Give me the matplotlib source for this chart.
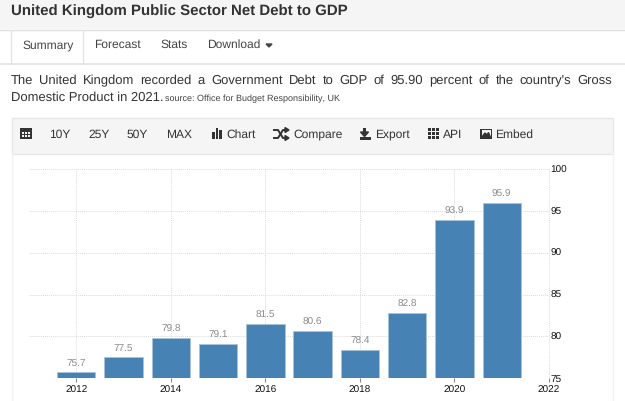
import matplotlib
matplotlib.use("Agg")
import matplotlib.pyplot as plt
from matplotlib.patches import Rectangle, Polygon

years = [2012, 2013, 2014, 2015, 2016, 2017, 2018, 2019, 2020, 2021]
debt = [75.7, 77.5, 79.8, 79.1, 81.5, 80.6, 78.4, 82.8, 93.9, 95.9]
x_ticks = [2012, 2014, 2016, 2018, 2020, 2022]
y_ticks = [75, 80, 85, 90, 95, 100]
tabs = ["Summary", "Forecast", "Stats", "Download"]
tab_x = [22, 94, 160, 207]
tools = ["10Y", "25Y", "50Y", "MAX", "Chart", "Compare", "Export", "API", "Embed"]
tool_x = [49.5, 88, 127, 166.5, 226, 293, 375, 443, 495]
line_one = "The United Kingdom recorded a Government Debt to GDP of 95.90 percent of the country's Gross"
line_two = "Domestic Product in 2021."
source = "source: Office for Budget Responsibility, UK"

W, H = 625, 401
plt.rcParams["font.family"] = ["Liberation Sans", "DejaVu Sans"]
plt.rcParams["text.hinting"] = "no_hinting"
plt.rcParams["text.hinting_factor"] = 1
fig = plt.figure(figsize=(W / 100, H / 100), dpi=100, facecolor="white")

# page furniture, drawn in pixel coordinates
page = fig.add_axes([0, 0, 1, 1])
page.set_xlim(0, W)
page.set_ylim(H, 0)
page.axis("off")


def box(x, y, w, h, face, edge="none", lw=1.0):
    page.add_patch(Rectangle((x, y), w, h, facecolor=face, edgecolor=edge, linewidth=lw))


box(-2, -2, W + 4, 31, "#f5f5f5")
page.plot([0, W], [29.5, 29.5], color="#dddddd", lw=1)
page.plot([0, W], [63.5, 63.5], color="#e3e3e3", lw=1.2)
box(11, 29.5, 72, 35, "white")
page.plot([11, 11, 83, 83], [64, 30, 30, 64], color="#e3e3e3", lw=0.9)
page.plot([11.5, 11.5], [153, H], color="#f2f2f2", lw=1)
page.plot([612.5, 612.5], [153, H], color="#f2f2f2", lw=1)
box(11.5, 117.5, 601, 36, "#f5f5f5", "#e7e7e7", 1)

page.text(11, 12, "United Kingdom Public Sector Net Debt to GDP", fontsize=10.8,
          fontweight="bold", color="#333333", va="center")
for label, x in zip(tabs, tab_x):
    page.text(x, 45, label, fontsize=8.8, color="#444444", va="center")
page.add_patch(Polygon([[266, 44], [272, 44], [269, 47]], color="#444444"))

# first paragraph line is justified word by word
renderer = fig.canvas.get_renderer()
words = line_one.split()
items = [page.text(0, 81, w, fontsize=9.3, color="#333333", va="center") for w in words]
widths = [t.get_window_extent(renderer).width for t in items]
gap = (612 - 11 - sum(widths)) / (len(words) - 1)
cursor = 11
for t, w in zip(items, widths):
    t.set_x(cursor)
    cursor += w + gap
page.text(11, 97.5, line_two, fontsize=9.3, color="#333333", va="center")
page.text(165, 98.5, source, fontsize=6.5, color="#444444", va="center")

for label, x in zip(tools, tool_x):
    page.text(x, 134.5, label, fontsize=8.9, color="#333333", va="center")

icon = "#333333"
# calendar
box(20, 127.5, 11.5, 11.5, icon)
for cx in (22.5, 25.5, 28.5):
    for cy in (133, 136):
        box(cx - 1, cy - 1, 2, 2, "#f5f5f5")
# chart bars
box(212, 132, 2.5, 7, icon)
box(215.5, 128, 2.5, 11, icon)
box(219, 130, 3, 9, icon)
# shuffle arrows
page.plot([274, 278, 283, 286], [130, 130, 138, 138], color=icon, lw=1.4)
page.plot([274, 278, 283, 286], [138, 138, 130, 130], color=icon, lw=1.4)
page.add_patch(Polygon([[285, 127.5], [289, 130], [285, 132.5]], color=icon))
page.add_patch(Polygon([[285, 135.5], [289, 138], [285, 140.5]], color=icon))
# download arrow
box(363, 127.5, 3, 6, icon)
page.add_patch(Polygon([[360.5, 132], [368.5, 132], [364.5, 136.5]], color=icon))
box(360, 137, 11, 2.5, icon)
# api grid
for cx in (428, 432, 436):
    for cy in (128, 132, 136):
        box(cx - 0.5, cy, 3, 3, icon)
# picture frame
box(480, 128.5, 12, 10.5, icon)
box(481.5, 130, 9, 7.5, "#f5f5f5")
page.add_patch(Polygon([[481.5, 137.5], [485, 133], [487, 135], [488.5, 132.5], [490.5, 137.5]], color=icon))

# bar chart
left, right, top, bottom = 29, 549, 169, 378.3
ax = fig.add_axes([left / W, 1 - bottom / H, (right - left) / W, (bottom - top) / H])
ax.patch.set_alpha(0)
ax.set_xlim(2011, 2022)
ax.set_ylim(75, 100)
ax.bar(years, [v - 75 for v in debt], bottom=75, width=0.81, color="#4682b4",
       edgecolor="#a9c3dc", linewidth=0.6, zorder=3)
for year, v in zip(years, debt):
    ax.annotate(f"{v:.1f}", (year, v), xytext=(0, 4), textcoords="offset pixels",
                ha="center", va="bottom", fontsize=7.0, color="#8a8a8a", zorder=4)

ax.set_xticks(x_ticks)
ax.set_yticks(y_ticks)
ax.yaxis.tick_right()
ax.grid(True, color="#dcdcdc", linestyle=(0, (1, 1)), linewidth=0.7, zorder=0)
ax.set_axisbelow(True)
ax.tick_params(axis="x", length=3, width=0.8, color="#888888", pad=2.5, labelsize=7.2, labelcolor="#111111")
ax.tick_params(axis="y", length=0, pad=1, labelsize=7.2, labelcolor="#111111")
for name, spine in ax.spines.items():
    spine.set_visible(False)
ax.plot([2022, 2022], [75, 100], color="#dcdcdc", linestyle=(0, (1, 1)), linewidth=0.7, clip_on=False)

fig.savefig("out.png", dpi=100)
